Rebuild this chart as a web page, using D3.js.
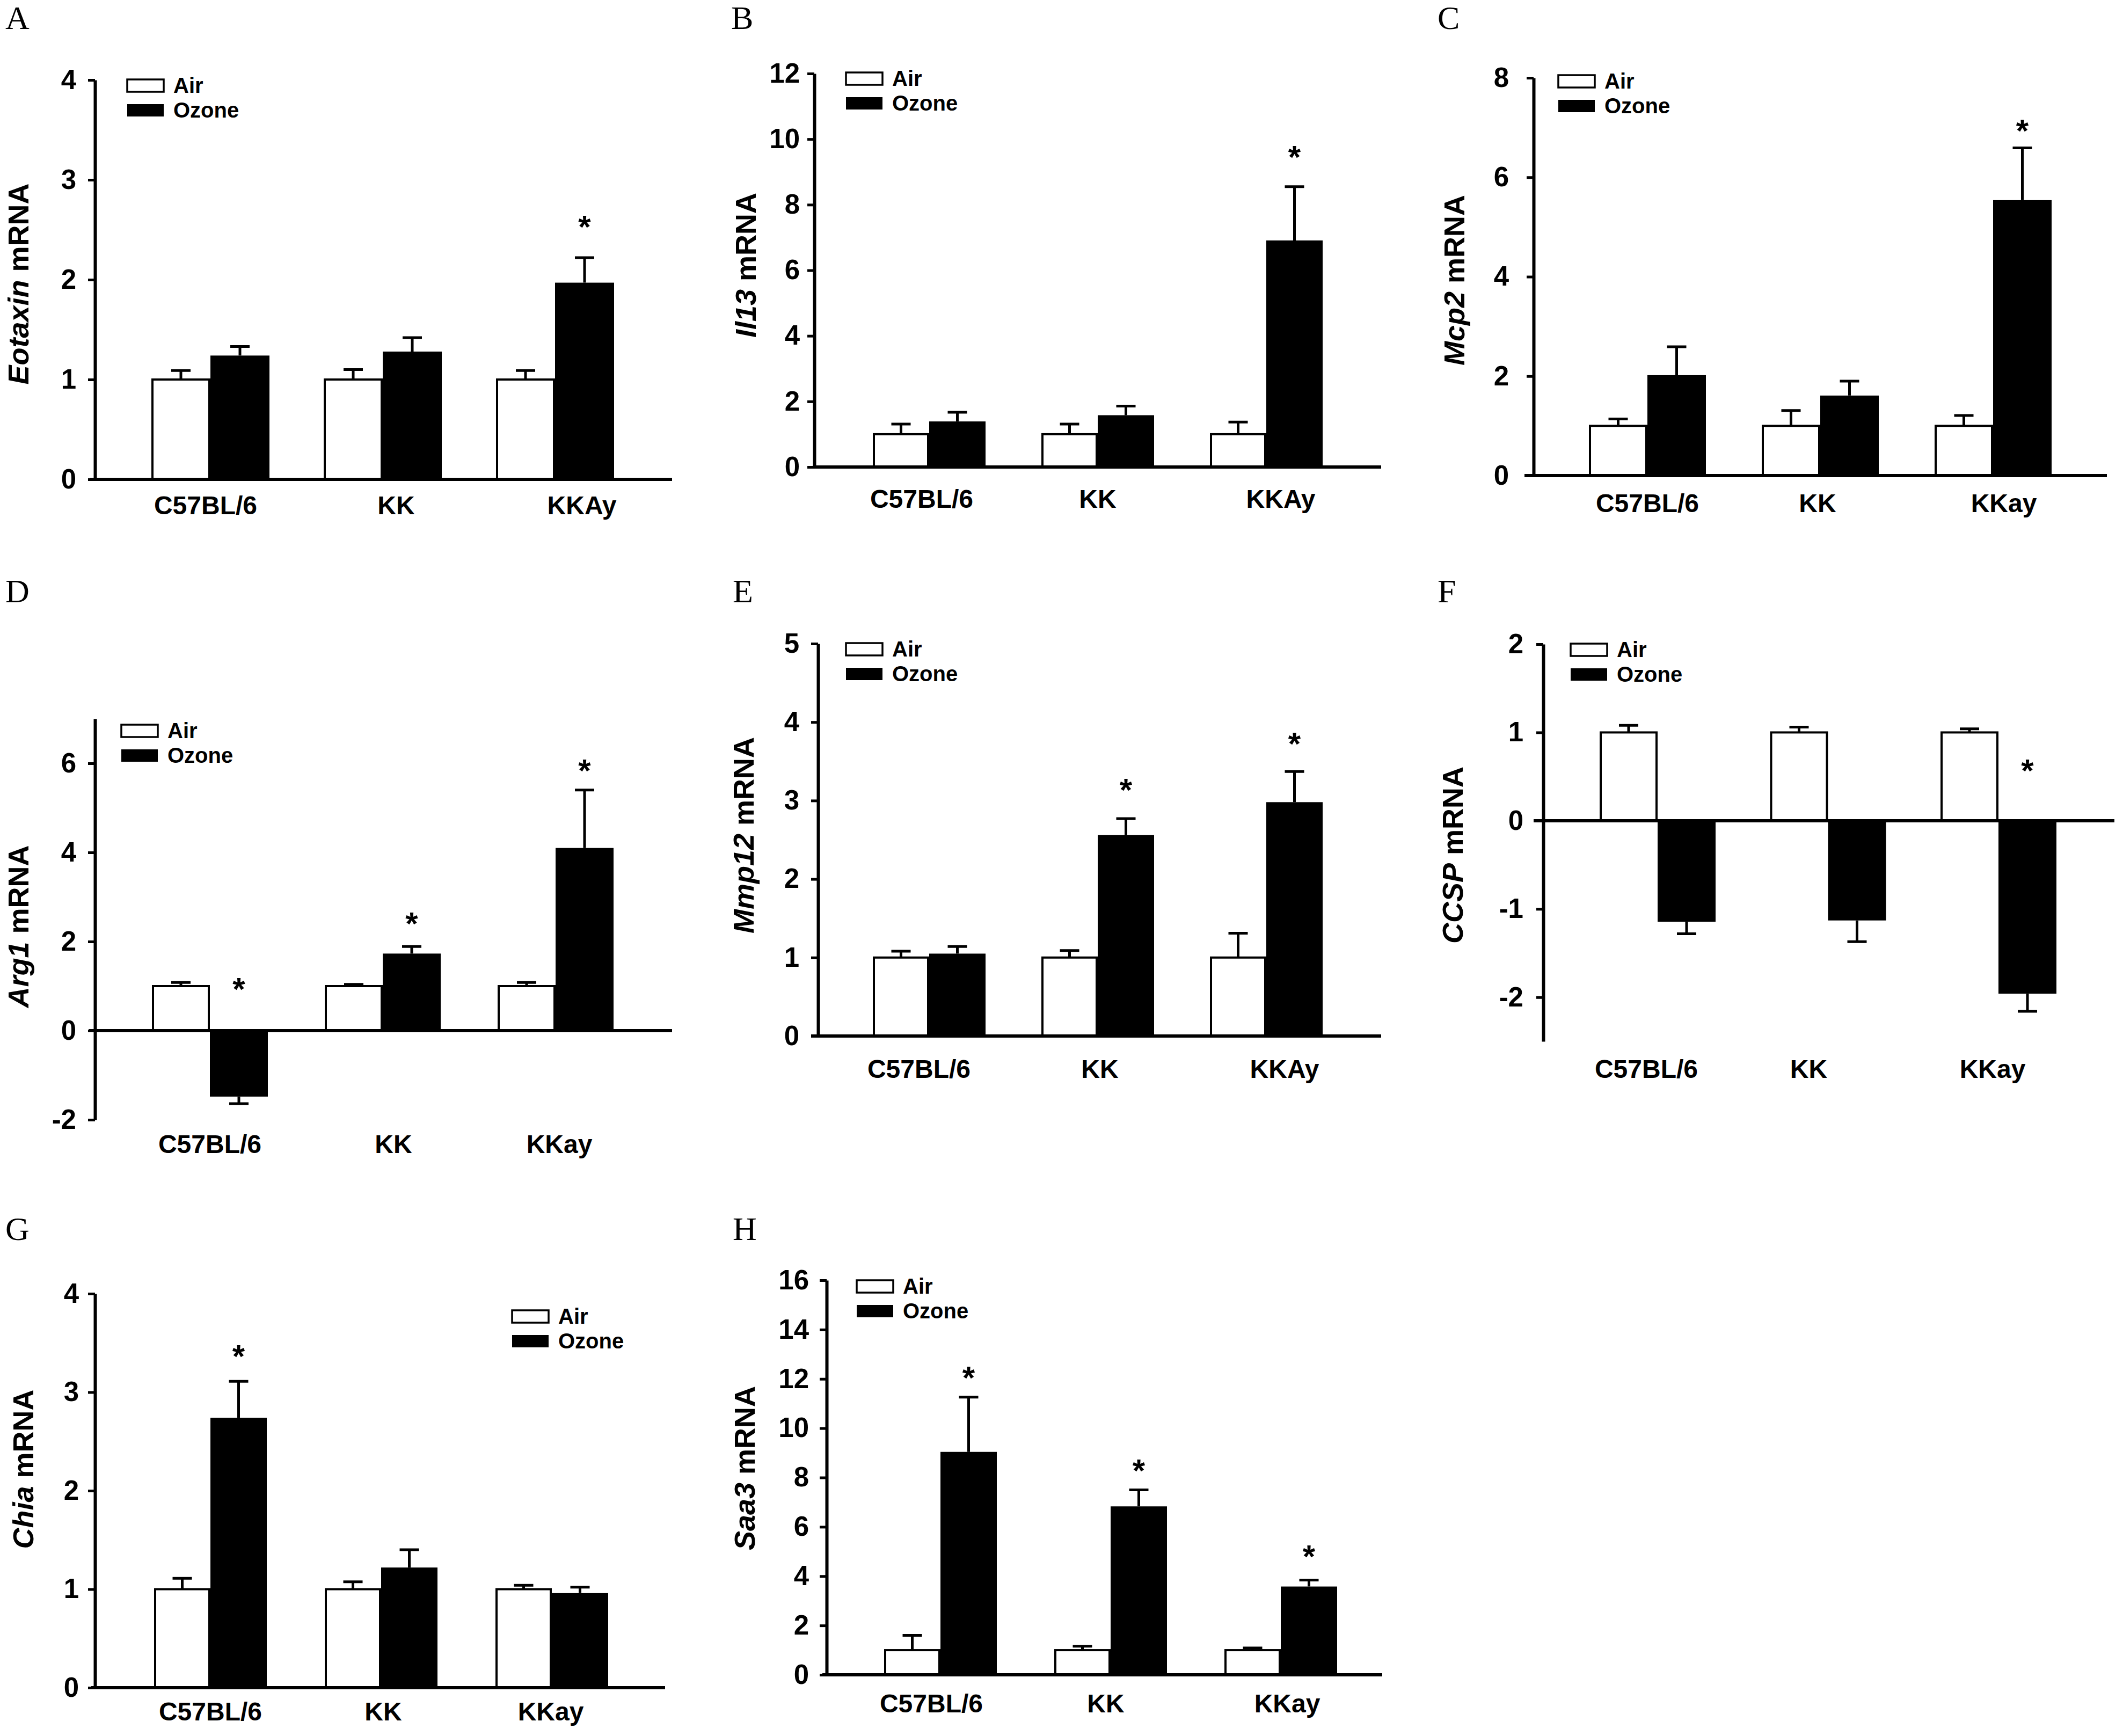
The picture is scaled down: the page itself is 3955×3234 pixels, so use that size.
<!DOCTYPE html>
<html>
<head>
<meta charset="utf-8">
<script src="https://cdn.jsdelivr.net/npm/d3@7"></script>
<style>
  html, body { margin: 0; padding: 0; background: #fff; }
  svg { display: block; }
  text { font-family: "Liberation Sans", Arial, sans-serif; font-weight: bold; fill: #000; }
  .letter { font-family: "Liberation Serif", "Times New Roman", serif; font-weight: normal; }
</style>
</head>
<body>
<script>
// ---------------- DATA ----------------
const seriesNames = ["Air", "Ozone"];
const strainsAy = ["C57BL/6", "KK", "KKAy"];
const strainsay = ["C57BL/6", "KK", "KKay"];

// A – Eotaxin
const eotaxinAir = [1.0, 1.0, 1.0];
const eotaxinAirErr = [0.09, 0.10, 0.09];
const eotaxinOzone = [1.24, 1.28, 1.97];
const eotaxinOzoneErr = [0.09, 0.14, 0.25];
const eotaxinStars = [null, null, 2.6];
const eotaxinTicks = [0, 1, 2, 3, 4];

// B – Il13
const il13Air = [1.0, 1.0, 1.0];
const il13AirErr = [0.31, 0.31, 0.37];
const il13Ozone = [1.39, 1.58, 6.91];
const il13OzoneErr = [0.28, 0.28, 1.64];
const il13Stars = [null, null, 9.67];
const il13Ticks = [0, 2, 4, 6, 8, 10, 12];

// C – Mcp2
const mcp2Air = [1.0, 1.0, 1.0];
const mcp2AirErr = [0.14, 0.31, 0.21];
const mcp2Ozone = [2.02, 1.61, 5.54];
const mcp2OzoneErr = [0.57, 0.29, 1.05];
const mcp2Stars = [null, null, 7.08];
const mcp2Ticks = [0, 2, 4, 6, 8];

// D – Arg1
const arg1Air = [1.0, 1.0, 1.0];
const arg1AirErr = [0.08, 0.04, 0.08];
const arg1Ozone = [-1.48, 1.73, 4.10];
const arg1OzoneErr = [0.16, 0.16, 1.30];
const arg1Stars = [1.1, 2.57, 6.0];
const arg1Ticks = [-2, 0, 2, 4, 6];

// E – Mmp12
const mmp12Air = [1.0, 1.0, 1.0];
const mmp12AirErr = [0.08, 0.09, 0.31];
const mmp12Ozone = [1.05, 2.56, 2.98];
const mmp12OzoneErr = [0.09, 0.21, 0.39];
const mmp12Stars = [null, 3.23, 3.82];
const mmp12Ticks = [0, 1, 2, 3, 4, 5];

// F – CCSP
const ccspAir = [1.0, 1.0, 1.0];
const ccspAirErr = [0.08, 0.06, 0.04];
const ccspOzone = [-1.145, -1.13, -1.96];
const ccspOzoneErr = [0.135, 0.24, 0.20];
const ccspStars = [null, null, 0.65];
const ccspTicks = [-2, -1, 0, 1, 2];

// G – Chia
const chiaAir = [1.0, 1.0, 1.0];
const chiaAirErr = [0.11, 0.075, 0.04];
const chiaOzone = [2.74, 1.22, 0.96];
const chiaOzoneErr = [0.37, 0.18, 0.06];
const chiaStars = [3.44, null, null];
const chiaTicks = [0, 1, 2, 3, 4];

// H – Saa3
const saa3Air = [1.0, 1.0, 1.0];
const saa3AirErr = [0.60, 0.16, 0.09];
const saa3Ozone = [9.04, 6.83, 3.58];
const saa3OzoneErr = [2.22, 0.67, 0.26];
const saa3Stars = [12.35, 8.58, 5.1];
const saa3Ticks = [0, 2, 4, 6, 8, 10, 12, 14, 16];

// ---------------- PANELS ----------------
const panels = [
  { letter: "A", gene: "Eotaxin", cats: strainsAy, air: eotaxinAir, airErr: eotaxinAirErr, oz: eotaxinOzone, ozErr: eotaxinOzoneErr, stars: eotaxinStars, ticks: eotaxinTicks, domain: [0, 4] },
  { letter: "B", gene: "Il13", cats: strainsAy, air: il13Air, airErr: il13AirErr, oz: il13Ozone, ozErr: il13OzoneErr, stars: il13Stars, ticks: il13Ticks, domain: [0, 12] },
  { letter: "C", gene: "Mcp2", cats: strainsay, air: mcp2Air, airErr: mcp2AirErr, oz: mcp2Ozone, ozErr: mcp2OzoneErr, stars: mcp2Stars, ticks: mcp2Ticks, domain: [0, 8] },
  { letter: "D", gene: "Arg1", cats: strainsay, air: arg1Air, airErr: arg1AirErr, oz: arg1Ozone, ozErr: arg1OzoneErr, stars: arg1Stars, ticks: arg1Ticks, domain: [-2, 7] },
  { letter: "E", gene: "Mmp12", cats: strainsAy, air: mmp12Air, airErr: mmp12AirErr, oz: mmp12Ozone, ozErr: mmp12OzoneErr, stars: mmp12Stars, ticks: mmp12Ticks, domain: [0, 5] },
  { letter: "F", gene: "CCSP", cats: strainsay, air: ccspAir, airErr: ccspAirErr, oz: ccspOzone, ozErr: ccspOzoneErr, stars: ccspStars, ticks: ccspTicks, domain: [-2.5, 2] },
  { letter: "G", gene: "Chia", cats: strainsay, air: chiaAir, airErr: chiaAirErr, oz: chiaOzone, ozErr: chiaOzoneErr, stars: chiaStars, ticks: chiaTicks, domain: [0, 4] },
  { letter: "H", gene: "Saa3", cats: strainsay, air: saa3Air, airErr: saa3AirErr, oz: saa3Ozone, ozErr: saa3OzoneErr, stars: saa3Stars, ticks: saa3Ticks, domain: [0, 16] }
];

// layout (pixel geometry per panel)
const layouts = [
  { lx: 10,   ly: 54,   ax: 177,  yBot: 893,  yTop: 149,  xs: 168,  xe: 1252, c0: 392,  step: 321,   bw: 110, gap: 35, labY: 958,  labDx: [-9, 25, 50],   titleX: 53,   titleY: 529,  legX: 235,  legY: 146 },
  { lx: 1362, ly: 54,   ax: 1517, yBot: 870,  yTop: 137,  xs: 1514, xe: 2573, c0: 1731, step: 314,   bw: 105, gap: 27, labY: 946,  labDx: [-14, 0, 27],   titleX: 1408, titleY: 494,  legX: 1574, legY: 133 },
  { lx: 2678, ly: 54,   ax: 2857, yBot: 886,  yTop: 145,  xs: 2840, xe: 3925, c0: 3069, step: 322,   bw: 109, gap: 46, labY: 954,  labDx: [0, -5, 20],    titleX: 2728, titleY: 522,  legX: 2901, legY: 138 },
  { lx: 10,   ly: 1122, ax: 177,  yBot: 2086, yTop: 1339, xs: 166,  xe: 1252, c0: 391,  step: 322,   bw: 108, gap: 35, labY: 2148, labDx: [0, 20, 7],     titleX: 53,   titleY: 1726, legX: 224,  legY: 1348 },
  { lx: 1365, ly: 1122, ax: 1524, yBot: 1930, yTop: 1199, xs: 1511, xe: 2573, c0: 1731, step: 314,   bw: 105, gap: 35, labY: 2008, labDx: [-19, 4, 34],   titleX: 1404, titleY: 1556, legX: 1574, legY: 1196 },
  { lx: 2678, ly: 1122, ax: 2875, yBot: 1940, yTop: 1200, xs: 2857, xe: 3939, c0: 3088, step: 317.5, bw: 108, gap: 37, labY: 2008, labDx: [-21, -36, -11], titleX: 2725, titleY: 1593, legX: 2924, legY: 1197 },
  { lx: 10,   ly: 2310, ax: 177,  yBot: 3144, yTop: 2410, xs: 170,  xe: 1239, c0: 392,  step: 318,   bw: 105, gap: 30, labY: 3205, labDx: [0, 4, -2],     titleX: 62,   titleY: 2737, legX: 952,  legY: 2439 },
  { lx: 1365, ly: 2310, ax: 1540, yBot: 3120, yTop: 2385, xs: 1532, xe: 2575, c0: 1752, step: 317,   bw: 105, gap: 33, labY: 3190, labDx: [-17, -9, 12],  titleX: 1406, titleY: 2735, legX: 1594, legY: 2383 }
];

// ---------------- DRAW ----------------
const W = 3955, H = 3234;
const svg = d3.select("body").append("svg").attr("width", W).attr("height", H);
svg.append("rect").attr("width", W).attr("height", H).attr("fill", "#fff");

panels.forEach((p, i) => {
  const L = layouts[i];
  const g = svg.append("g");

  // panel letter
  g.append("text").attr("class", "letter").attr("x", L.lx).attr("y", L.ly)
    .attr("font-size", 62).text(p.letter);

  const y = d3.scaleLinear().domain(p.domain).range([L.yBot, L.yTop]);
  const pi = 1 - 2 * L.bw / L.step;
  const x0 = d3.scaleBand().domain(p.cats)
    .range([L.c0 - L.step / 2, L.c0 + 2.5 * L.step])
    .paddingInner(pi).paddingOuter(pi / 2);
  const x1 = d3.scaleBand().domain(seriesNames).range([0, x0.bandwidth()]).padding(0);

  const rows = p.cats.map((c, k) => ({
    cat: c,
    vals: [
      { s: "Air", v: p.air[k], e: p.airErr[k] },
      { s: "Ozone", v: p.oz[k], e: p.ozErr[k] }
    ],
    star: p.stars[k]
  }));

  const grp = g.selectAll(".grp").data(rows).enter().append("g")
    .attr("transform", d => `translate(${x0(d.cat)},0)`);

  // error bars
  grp.selectAll(".err").data(d => d.vals).enter().append("path")
    .attr("d", d => {
      const cx = x1(d.s) + x1.bandwidth() / 2;
      const end = d.v >= 0 ? d.v + d.e : d.v - d.e;
      return `M${cx},${y(d.v)}V${y(end)}M${cx - 18},${y(end)}H${cx + 18}`;
    })
    .attr("stroke", "#000").attr("stroke-width", 5).attr("fill", "none");

  // bars
  grp.selectAll(".bar").data(d => d.vals).enter().append("rect")
    .attr("x", d => x1(d.s) + (d.s === "Air" ? 2 : 0))
    .attr("width", d => x1.bandwidth() - (d.s === "Air" ? 4 : 0))
    .attr("y", d => y(Math.max(0, d.v)))
    .attr("height", d => Math.abs(y(d.v) - y(0)))
    .attr("fill", d => d.s === "Air" ? "#fff" : "#000")
    .attr("stroke", "#000").attr("stroke-width", d => d.s === "Air" ? 4 : 0);

  // significance stars
  grp.filter(d => d.star != null).append("text")
    .attr("x", x1("Ozone") + x1.bandwidth() / 2)
    .attr("y", d => y(d.star) + 34)
    .attr("text-anchor", "middle").attr("font-size", 60).text("*");

  // y axis
  const ax = g.append("g").attr("transform", `translate(${L.ax},0)`)
    .call(d3.axisLeft(y).tickValues(p.ticks).tickSize(13).tickSizeOuter(0)
      .tickPadding(L.gap - 13).tickFormat(d => String(d)));
  ax.select(".domain").attr("stroke", "#000").attr("stroke-width", 6);
  ax.selectAll(".tick line").attr("stroke", "#000").attr("stroke-width", 5);
  ax.selectAll(".tick text").attr("font-size", 51)
    .attr("font-family", "'Liberation Sans', Arial, sans-serif").attr("font-weight", "bold");

  // x axis (zero line)
  g.append("line").attr("x1", L.xs).attr("x2", L.xe).attr("y1", y(0)).attr("y2", y(0))
    .attr("stroke", "#000").attr("stroke-width", 6);

  // category labels
  g.selectAll(".cl").data(p.cats).enter().append("text")
    .attr("x", (d, k) => x0(d) + x0.bandwidth() / 2 + L.labDx[k])
    .attr("y", L.labY)
    .attr("text-anchor", "middle").attr("font-size", 48).text(d => d);

  // y title
  const t = g.append("text")
    .attr("transform", `translate(${L.titleX},${L.titleY}) rotate(-90)`)
    .attr("text-anchor", "middle").attr("font-size", 54);
  t.append("tspan").attr("font-style", "italic").text(p.gene);
  t.append("tspan").text(" mRNA");

  // legend
  const lg = g.append("g").attr("transform", `translate(${L.legX},${L.legY})`);
  seriesNames.forEach((s, k) => {
    lg.append("rect").attr("x", 2).attr("y", k * 46 + 2).attr("width", 68).attr("height", 23)
      .attr("fill", s === "Air" ? "#fff" : "#000")
      .attr("stroke", "#000").attr("stroke-width", s === "Air" ? 3.5 : 0);
    lg.append("text").attr("x", 88).attr("y", k * 46 + 27)
      .attr("font-size", 40).text(s);
  });
});
</script>
</body>
</html>
